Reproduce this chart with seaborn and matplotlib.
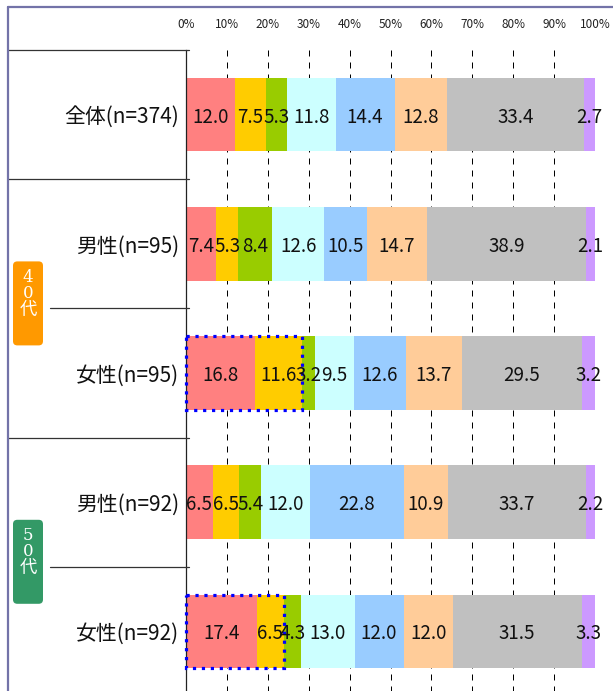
import numpy as np
import pandas as pd
import matplotlib
matplotlib.use("Agg")
import matplotlib.pyplot as plt
import seaborn as sns
from matplotlib.patches import FancyBboxPatch, Rectangle
from matplotlib.lines import Line2D
from matplotlib.transforms import blended_transform_factory

# Row labels (top to bottom)
groups = ["全体(n=374)", "男性(n=95)", "女性(n=95)", "男性(n=92)", "女性(n=92)"]

# Share of each answer category (%), left to right within each row
overall = [12.0, 7.5, 5.3, 11.8, 14.4, 12.8, 33.4, 2.7]
male_40s = [7.4, 5.3, 8.4, 12.6, 10.5, 14.7, 38.9, 2.1]
female_40s = [16.8, 11.6, 3.2, 9.5, 12.6, 13.7, 29.5, 3.2]
male_50s = [6.5, 6.5, 5.4, 12.0, 22.8, 10.9, 33.7, 2.2]
female_50s = [17.4, 6.5, 4.3, 13.0, 12.0, 12.0, 31.5, 3.3]

segment_colors = ["#FF8080", "#FFCC00", "#99CC00", "#CCFFFF",
                  "#99CCFF", "#FFCC99", "#C0C0C0", "#CC99FF"]

x_ticks = [0, 10, 20, 30, 40, 50, 60, 70, 80, 90, 100]
x_tick_labels = [f"{t}%" for t in x_ticks]

# Age-band badges: (text lines, first row, last row, colour)
age_bands = [(["4", "0", "代"], 1, 2, "#FF9900"),
             (["5", "0", "代"], 3, 4, "#339966")]

# Rows with the first two categories outlined
highlight_rows = ["女性(n=95)", "女性(n=92)"]
highlight_segments = 2

rows = [overall, male_40s, female_40s, male_50s, female_50s]
records = []
for g, vals in zip(groups, rows):
    cum = np.cumsum(vals)
    for k, (v, c) in enumerate(zip(vals, cum)):
        records.append({"group": g, "segment": k, "value": v, "cum": c})
df = pd.DataFrame(records)

sns.set_style("white")
plt.rcParams["font.family"] = ["Noto Sans CJK JP", "DejaVu Sans"]

W, H, DPI = 613, 691, 100
fig = plt.figure(figsize=(W / DPI, H / DPI), dpi=DPI, facecolor="white")

x0_px, x1_px = 186, 595
top_px, bottom_px = 50, 696
ax = fig.add_axes([x0_px / W, (H - bottom_px) / H,
                   (x1_px - x0_px) / W, (bottom_px - top_px) / H])

bar_width = 0.57
# Stacked bars: cumulative totals drawn from the longest to the shortest
for k in reversed(range(len(segment_colors))):
    sub = df[df["segment"] == k]
    sns.barplot(data=sub, x="cum", y="group", order=groups, orient="h",
                color=segment_colors[k], saturation=1, width=bar_width,
                linewidth=0, edgecolor="none", errorbar=None, ax=ax, zorder=2)

# Value labels centred in each segment
for _, r in df.iterrows():
    i = groups.index(r["group"])
    ax.text(r["cum"] - r["value"] / 2, i, f"{r['value']:.1f}",
            ha="center", va="center_baseline", fontsize=13.5, color="#111111",
            zorder=5)

# Dotted outlines around the first categories
for g in highlight_rows:
    i = groups.index(g)
    sub = df[(df["group"] == g) & (df["segment"] < highlight_segments)]
    span = sub["value"].sum()
    ax.add_patch(Rectangle((0, i - bar_width / 2), span, bar_width,
                           fill=False, edgecolor="#0000FF", linewidth=2.3,
                           linestyle=(0, (1, 1.8)), zorder=4, clip_on=False))

ax.set_xlim(0, 100)
ax.set_ylim(len(groups) - 0.5, -0.5)
ax.set_xticks(x_ticks)
ax.set_xticklabels(x_tick_labels)
ax.xaxis.tick_top()
ax.tick_params(axis="x", length=0, pad=14, labelsize=8.5, colors="#222222")
ax.tick_params(axis="y", length=0, pad=5, labelsize=15, colors="#111111")
ax.set_xlabel("")
ax.set_ylabel("")
ax.grid(axis="x", color="black", linestyle=(0, (6, 6)), linewidth=0.72)
ax.grid(axis="y", visible=False)
ax.set_axisbelow(True)
for s in ["top", "right", "bottom"]:
    ax.spines[s].set_visible(False)
ax.spines["left"].set_color("#222222")
ax.spines["left"].set_linewidth(0.9)
ax.spines["left"].set_zorder(3)

# Row separators in the label column
trans = blended_transform_factory(fig.transFigure, ax.transData)
band_rows = {r for _, a, b, _ in age_bands for r in range(a + 1, b + 1)}
for edge in np.arange(-0.5, len(groups) - 0.5, 1.0):
    inner = int(edge + 0.5) in band_rows
    start_px = 50 if inner else 8
    fig.add_artist(Line2D([start_px / W, 189 / W], [edge, edge],
                          transform=trans, color="#333333", linewidth=0.9))

# Age-band badges, placed around the boundary between their two rows
bh, bw, cx = 84, 30, 28
for lines, a, b, col in age_bands:
    mid = (a + b) / 2
    y_mid_px = ax.transData.transform((0, mid))[1]   # display coords, origin bottom
    box_top = y_mid_px + bh / 2 + 5
    fig.add_artist(FancyBboxPatch(((cx - bw / 2) / W, (box_top - bh) / H),
                                  bw / W, bh / H,
                                  boxstyle="round,pad=0,rounding_size=0.007",
                                  transform=fig.transFigure, facecolor=col,
                                  edgecolor="none", mutation_aspect=W / H))
    offsets = [16, 32, 49]
    sizes = [12, 12, 12.5]
    for t, off, sz in zip(lines, offsets, sizes):
        fig.text(cx / W, (box_top - off) / H, t, ha="center", va="center",
                 color="white", fontsize=sz, linespacing=1.0,
                 family=["DejaVu Serif", "Noto Sans CJK JP"])

# Outer frame (top and left edges)
frame_col = "#7373A8"
fig.add_artist(Line2D([8 / W, 1.0], [1 - 7 / H, 1 - 7 / H],
                      transform=fig.transFigure, color=frame_col, linewidth=1.6))
fig.add_artist(Line2D([8 / W, 8 / W], [0, 1 - 7 / H],
                      transform=fig.transFigure, color=frame_col, linewidth=1.6))

fig.savefig("out.png", dpi=DPI, facecolor="white")
